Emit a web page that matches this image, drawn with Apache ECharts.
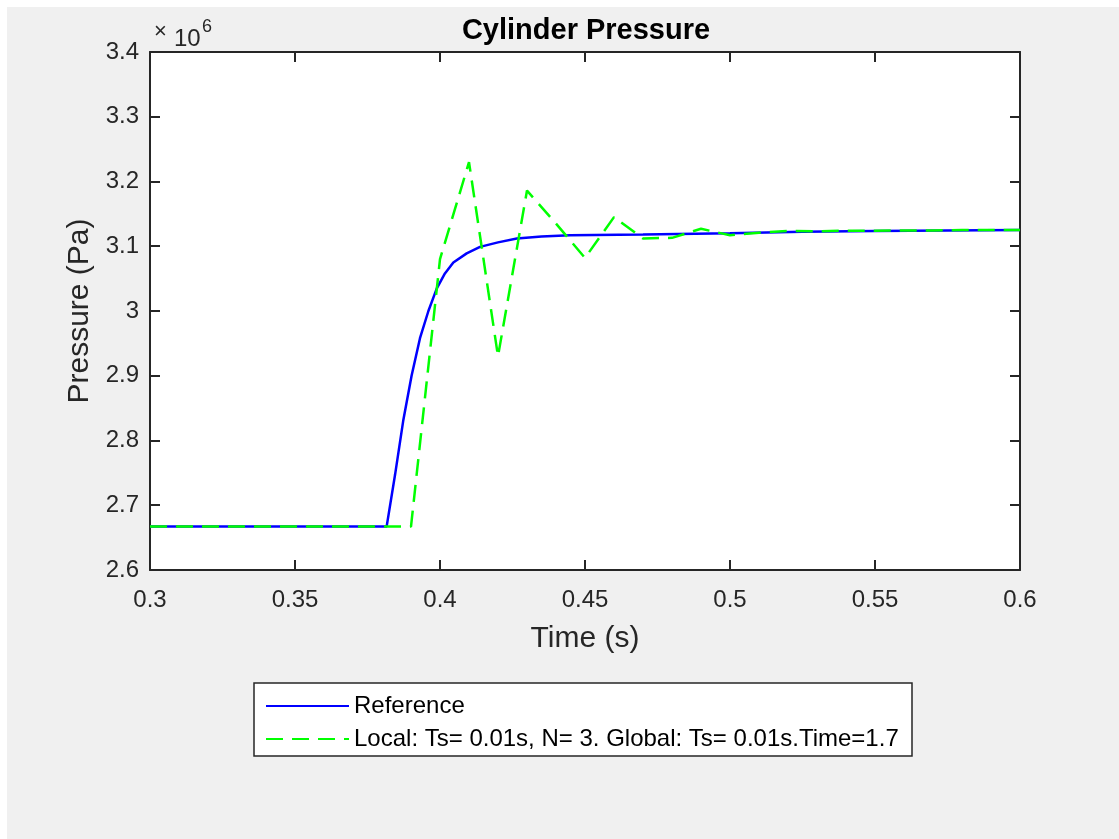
<!DOCTYPE html>
<html>
<head>
<meta charset="utf-8">
<title>Cylinder Pressure</title>
<script src="https://cdn.jsdelivr.net/npm/echarts@6/dist/echarts.min.js"></script>
<style>
  html, body { margin: 0; padding: 0; background: #fff; }
  #chart { position: absolute; left: 7px; top: 7px; width: 1112px; height: 832px; background: #f0f0f0; }
</style>
</head>
<body>
<div id="chart"></div>
<script>
// values in units of 1e6 Pa (axis shows x10^6)
const refTime = [0.3, 0.3816, 0.3845, 0.3873, 0.3902, 0.3931, 0.396, 0.3989, 0.4017, 0.4046,
  0.4092, 0.4138, 0.42, 0.4265, 0.435, 0.4448, 0.47, 0.5, 0.525, 0.55, 0.6]
const refPressure = [2.667, 2.667, 2.747, 2.83, 2.9, 2.958, 3.0, 3.035, 3.058, 3.075,
  3.089, 3.099, 3.106, 3.112, 3.115, 3.117, 3.118, 3.12, 3.1225, 3.1235, 3.125]

const localTime = [0.3, 0.31, 0.32, 0.33, 0.34, 0.35, 0.36, 0.37, 0.38, 0.39,
  0.4, 0.41, 0.42, 0.43, 0.44, 0.45, 0.46, 0.47, 0.48, 0.49,
  0.5, 0.51, 0.52, 0.53, 0.54, 0.55, 0.56, 0.57, 0.58, 0.59, 0.6]
const localPressure = [2.667, 2.667, 2.667, 2.667, 2.667, 2.667, 2.667, 2.667, 2.667, 2.667,
  3.08, 3.23, 2.93, 3.186, 3.135, 3.082, 3.145, 3.112, 3.113, 3.127,
  3.117, 3.121, 3.1235, 3.123, 3.124, 3.124, 3.1245, 3.1245, 3.125, 3.125, 3.125]

const seriesNames = ['Reference', 'Local: Ts= 0.01s, N= 3. Global: Ts= 0.01s.Time=1.7']

const axisColor = '#262626'
const font = '"Liberation Sans", Arial, Helvetica, sans-serif'

const chart = echarts.init(document.getElementById('chart'))

const zip = (xs, ys) => xs.map((x, i) => [x, ys[i]])
const fmt = (v) => String(+v.toFixed(2))

chart.setOption({
  animation: false,
  textStyle: { fontFamily: font, color: axisColor },
  title: {
    text: 'Cylinder Pressure',
    left: 579, top: 9, padding: 0,
    textAlign: 'center',
    textStyle: { fontFamily: font, fontSize: 29, fontWeight: 'bold', color: '#000' },
  },
  graphic: [
    { type: 'text', left: 147, top: 14, style: { text: '×', fontFamily: font, fontSize: 22, fill: axisColor } },
    { type: 'text', left: 167, top: 20, style: { text: '10', fontFamily: font, fontSize: 24, fill: axisColor } },
    { type: 'text', left: 195, top: 11, style: { text: '6', fontFamily: font, fontSize: 18, fill: axisColor } },
  ],
  grid: {
    left: 143, top: 45, width: 870, height: 518,
    show: true, backgroundColor: '#fff', borderWidth: 0,
  },
  legend: {
    orient: 'vertical',
    left: 247, top: 676,
    padding: [11, 6, 5, 11],
    itemGap: 9,
    itemWidth: 83, itemHeight: 14,
    backgroundColor: '#fff',
    borderColor: axisColor, borderWidth: 1.5,
    itemStyle: { opacity: 0 },
    textStyle: { fontFamily: font, fontSize: 24, color: '#000', lineHeight: 24, width: 552 },
    data: seriesNames,
  },
  xAxis: [{
    type: 'value', min: 0.3, max: 0.6, interval: 0.05,
    name: 'Time (s)', nameLocation: 'middle', nameGap: 54,
    nameTextStyle: { fontFamily: font, fontSize: 30, color: axisColor },
    axisLine: { lineStyle: { color: axisColor, width: 2 } },
    axisTick: { inside: true, length: 10, lineStyle: { color: axisColor, width: 2 } },
    axisLabel: { fontFamily: font, fontSize: 24, color: axisColor, margin: 18, formatter: fmt },
    splitLine: { show: false },
  }, {
    type: 'value', position: 'top', min: 0.3, max: 0.6, interval: 0.05,
    axisLine: { show: true, lineStyle: { color: axisColor, width: 2 } },
    axisTick: { show: true, inside: true, length: 10, lineStyle: { color: axisColor, width: 2 } },
    axisLabel: { show: false },
    splitLine: { show: false },
  }],
  yAxis: [{
    type: 'value', min: 2.6, max: 3.4, interval: 0.1,
    name: 'Pressure (Pa)', nameLocation: 'middle', nameGap: 51,
    nameTextStyle: { fontFamily: font, fontSize: 30, color: axisColor },
    axisLine: { show: true, lineStyle: { color: axisColor, width: 2 } },
    axisTick: { show: true, inside: true, length: 10, lineStyle: { color: axisColor, width: 2 } },
    axisLabel: { fontFamily: font, fontSize: 24, color: axisColor, margin: 11, formatter: fmt },
    splitLine: { show: false },
  }, {
    type: 'value', position: 'right', min: 2.6, max: 3.4, interval: 0.1,
    axisLine: { show: true, lineStyle: { color: axisColor, width: 2 } },
    axisTick: { show: true, inside: true, length: 10, lineStyle: { color: axisColor, width: 2 } },
    axisLabel: { show: false },
    splitLine: { show: false },
  }],
  series: [{
    name: seriesNames[0],
    type: 'line',
    symbol: 'none',
    lineStyle: { color: '#0000ff', width: 2.5 },
    itemStyle: { color: '#0000ff' },
    data: zip(refTime, refPressure),
    z: 2,
  }, {
    name: seriesNames[1],
    type: 'line',
    symbol: 'none',
    lineStyle: { color: '#00ff00', width: 2.5, type: [17, 9] },
    itemStyle: { color: '#00ff00' },
    data: zip(localTime, localPressure),
    z: 3,
  }],
})
</script>
</body>
</html>
